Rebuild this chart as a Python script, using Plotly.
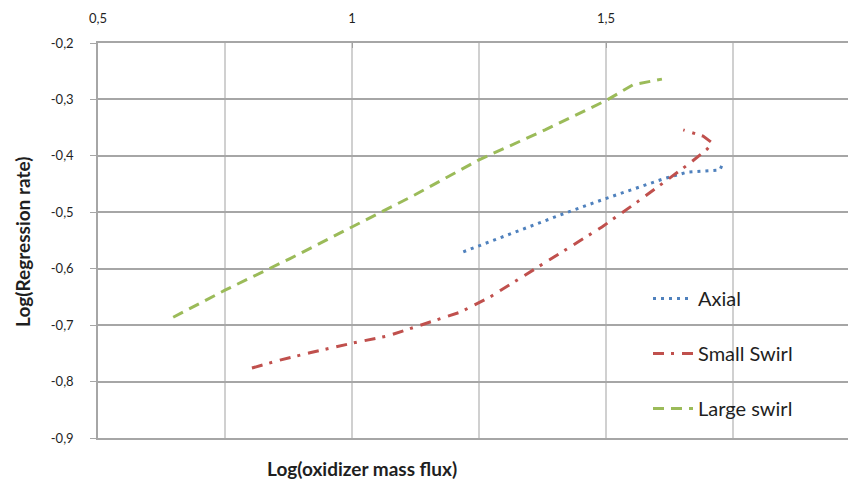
import plotly.graph_objects as go

# Axial (blue dotted)
axial_x = [1.219, 1.331, 1.415, 1.492, 1.567, 1.612, 1.659, 1.691, 1.724, 1.730]
axial_y = [-0.570, -0.531, -0.503, -0.478, -0.455, -0.441, -0.429, -0.427, -0.425, -0.413]

# Small Swirl (red dash-dot)
small_x = [0.803, 0.858, 0.917, 1.000, 1.071, 1.154, 1.213, 1.272, 1.341, 1.413,
           1.492, 1.561, 1.616, 1.665, 1.699, 1.709, 1.691, 1.671, 1.652]
small_y = [-0.776, -0.762, -0.749, -0.732, -0.719, -0.694, -0.677, -0.650, -0.611, -0.570,
           -0.526, -0.482, -0.445, -0.413, -0.388, -0.377, -0.365, -0.359, -0.354]

# Large swirl (green dashed)
large_x = [0.648, 0.750, 0.878, 1.000, 1.124, 1.250, 1.380, 1.502, 1.528, 1.553, 1.610]
large_y = [-0.686, -0.638, -0.582, -0.526, -0.469, -0.407, -0.354, -0.301, -0.287, -0.274, -0.264]

x_ticks = [0.5, 1.0, 1.5]
x_labels = ["0,5", "1", "1,5"]
y_ticks = [-0.2, -0.3, -0.4, -0.5, -0.6, -0.7, -0.8, -0.9]
y_labels = ["-0,2", "-0,3", "-0,4", "-0,5", "-0,6", "-0,7", "-0,8", "-0,9"]

FONT = "Lato"
TXT = "#1f1f1f"

OFF = 8  # default page body margin
FW, FH = 856 - OFF, 487 - OFF
L, T, R, B = 98 - OFF, 43 - OFF, 856 - OFF, 438 - OFF
W = R - L
H = B - T

fig = go.Figure()
fig.add_trace(go.Scatter(x=axial_x, y=axial_y, mode="lines", name="Axial",
                         legendgroup="a",
                         line=dict(color="#4F81BD", width=3, dash="3px,5px")))
fig.add_trace(go.Scatter(x=small_x, y=small_y, mode="lines", name="Small Swirl",
                         legendgroup="b",
                         line=dict(color="#C0504D", width=3, dash="11px,7px,3px,8px")))
fig.add_trace(go.Scatter(x=large_x, y=large_y, mode="lines", name="Large swirl",
                         legendgroup="c",
                         line=dict(color="#9BBB59", width=3, dash="11px,7px")))

fig.update_layout(
    width=FW, height=FH,
    margin=dict(l=L, r=FW - R, t=T, b=FH - B, autoexpand=False),
    paper_bgcolor="white", plot_bgcolor="white",
    font=dict(family=FONT, color=TXT, size=13),
    showlegend=True,
    legend=dict(x=(648 - OFF - L) / W, y=(B - (279 - OFF)) / H, xanchor="left", yanchor="top",
                font=dict(family=FONT, size=20, color=TXT),
                tracegroupgap=26, itemwidth=40, bgcolor="rgba(0,0,0,0)"),
    xaxis=dict(side="top", range=[0.5, 1.992], tickvals=x_ticks, ticktext=x_labels,
               showgrid=True, gridcolor="#d0d0d0", gridwidth=1.5,
               minor=dict(tick0=0.5, dtick=0.25, showgrid=True, gridcolor="#d0d0d0", gridwidth=1.5),
               ticks="inside", ticklen=5, tickcolor="#a0a0a0",
               ticklabelstandoff=13, automargin=False,
               showline=True, mirror=True, linecolor="#a6a6a6", linewidth=1.5,
               zeroline=False, tickfont=dict(size=13, family=FONT, color=TXT)),
    yaxis=dict(range=[-0.9, -0.2], tickvals=y_ticks, ticktext=y_labels,
               showgrid=True, gridcolor="#a6a6a6", gridwidth=1.5,
               ticks="outside", ticklen=6, tickcolor="#a6a6a6",
               ticklabelstandoff=14, automargin=False,
               showline=True, linecolor="#a6a6a6", linewidth=1.5,
               zeroline=False, tickfont=dict(size=13, family=FONT, color=TXT)),
    annotations=[
        dict(text="<b>Log(oxidizer mass flux)</b>", xref="paper", yref="paper",
             x=(362 - OFF - L) / W, y=-((468 - OFF) - B) / H, xanchor="center", yanchor="middle",
             showarrow=False, font=dict(size=19, family=FONT, color=TXT)),
        dict(text="<b>Log(Regression rate)</b>", xref="paper", yref="paper",
             x=-(L - (22 - OFF)) / W, y=(B - (242 - OFF)) / H, xanchor="center", yanchor="middle",
             textangle=-90, showarrow=False, font=dict(size=19, family=FONT, color=TXT)),
    ],
)

fig.write_html("out.html")
